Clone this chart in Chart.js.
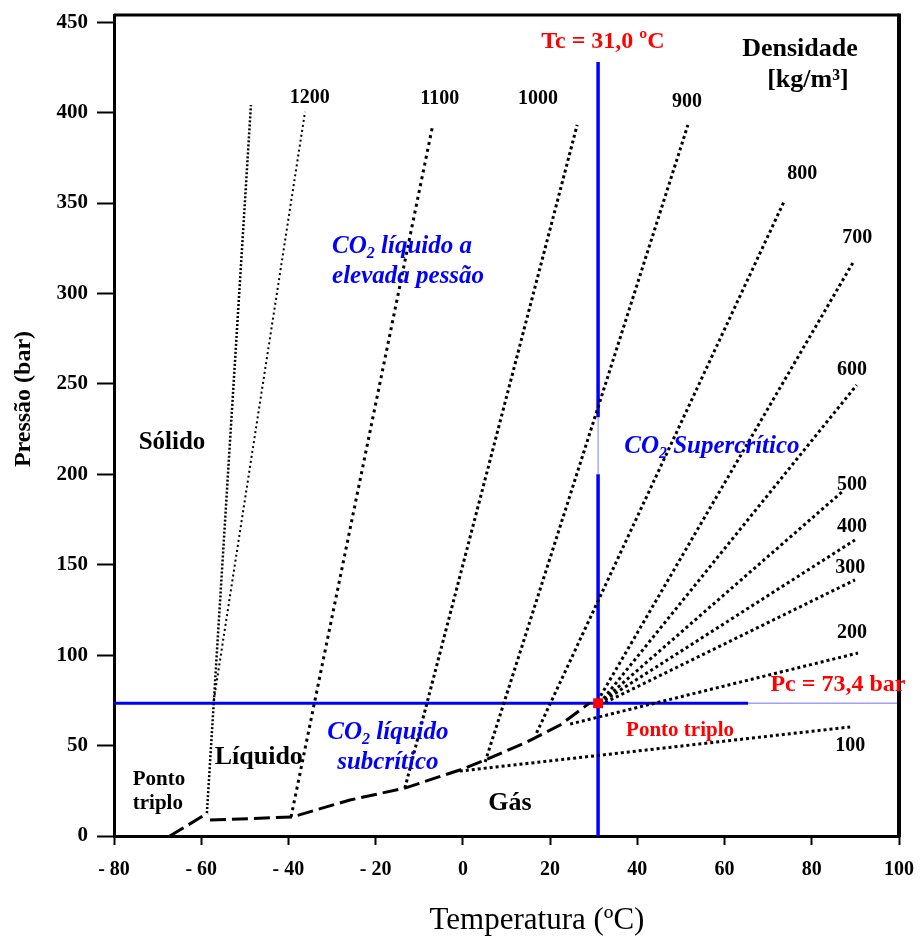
<!DOCTYPE html>
<html lang="pt">
<head>
<meta charset="utf-8">
<title>Diagrama de fases do CO2</title>
<script src="https://cdn.jsdelivr.net/npm/chart.js@4.4.1/dist/chart.umd.min.js"></script>
<style>
  html, body { margin: 0; padding: 0; background: #fff; }
  #wrap { width: 920px; height: 938px; }
</style>
</head>
<body>
<div id="wrap"><canvas id="phase-chart" width="920" height="938"></canvas></div>
<script>
/* ── Data: temperature (ºC), pressure (bar) ── */
const TEMP_TICKS = [-80, -60, -40, -20, 0, 20, 40, 60, 80, 100];
const PRESS_TICKS = [0, 50, 100, 150, 200, 250, 300, 350, 400, 450];

const T_CRIT = 31.0;
const P_CRIT = 73.4;

// phase boundaries
const SUBLIMATION = [[-67.2, 0], [-58.5, 12.7]];
const VAPORIZATION = [[-58.0, 8.8], [-39.2, 10.5], [-25.9, 19.9], [-13.3, 26.5], [-0.7, 36.5],
                      [5.1, 42.0], [14.7, 52.0], [22.3, 61.4], [29.1, 73.6]];
const MELTING = [[-58.7, 12.7], [-48.6, 404.2]];

// isochores (kg/m³): low end, high end
const ISO_1200 = [[-57.1, 75.2], [-36.2, 400.4]];
const ISO_1100 = [[-39.4, 10.5], [-6.9, 393.2]];
const ISO_1000 = [[-13.3, 26.5], [26.2, 393.2]];
const ISO_900  = [[5.1, 40.9], [51.6, 393.2]];
const ISO_800  = [[16.9, 57.0], [73.8, 351.7]];
const ISO_700  = [[30.9, 74.7], [89.4, 316.9]];
const ISO_600  = [[31.4, 73.5], [90.3, 249.4]];
const ISO_500  = [[31.4, 73.5], [86.9, 190.2]];
const ISO_400  = [[31.4, 73.5], [89.9, 163.7]];
const ISO_300  = [[31.4, 72.4], [89.9, 141.6]];
const ISO_200  = [[24.6, 61.9], [90.6, 101.2]];
const ISO_100  = [[-0.7, 35.9], [88.8, 60.3]];

const ISOCHORES = [
    ['1200', ISO_1200], ['1100', ISO_1100], ['1000', ISO_1000], ['900', ISO_900],
    ['800', ISO_800], ['700', ISO_700], ['600', ISO_600], ['500', ISO_500],
    ['400', ISO_400], ['300', ISO_300], ['200', ISO_200], ['100', ISO_100]
];

// critical lines (Tc line has a faint gap behind the supercritical label)
const TC_LINE = [[T_CRIT, 0], [T_CRIT, 200], [T_CRIT, 231.5], [T_CRIT, 428]];
const PC_LINE = [[-80, P_CRIT], [65.4, P_CRIT], [100, P_CRIT]];

/* ── Styling ── */
const SERIF = '"Liberation Serif", "Times New Roman", serif';
const BLUE = '#0000ff';
const RED = '#ff0000';

const pts = arr => arr.map(([x, y]) => ({ x, y }));

function lineSet(label, data, color, width, dash, order) {
    return {
        label, data: pts(data),
        showLine: true, fill: false, tension: 0,
        borderColor: color, borderWidth: width, borderDash: dash,
        pointRadius: 0, pointHoverRadius: 0, order
    };
}

const datasets = [];

datasets.push({
    label: 'Ponto crítico',
    data: pts([[T_CRIT, P_CRIT]]),
    pointStyle: 'rect', pointRadius: 7,
    backgroundColor: RED, borderColor: RED, borderWidth: 0, order: 0
});

ISOCHORES.forEach(([name, line]) => {
    let w = 3, dash = [3, 3];
    if (name === '1200') { w = 2; dash = [2, 3]; }
    if (name === '1100') { w = 3; dash = [3, 4]; }
    datasets.push(lineSet(name, line, '#000', w, dash, 1));
});
datasets.push(lineSet('Fusão', MELTING, '#000', 2.5, [2, 2], 1));
datasets.push(lineSet('Sublimação', SUBLIMATION, '#000', 3, [16, 6], 1));
datasets.push(lineSet('Vaporização', VAPORIZATION, '#000', 3, [16, 6], 1));

const tc = lineSet('Tc', TC_LINE, BLUE, 3.5, [], 3);
tc.segment = {
    borderWidth: c => c.p0DataIndex === 1 ? 1 : 3.5,
    borderColor: c => c.p0DataIndex === 1 ? '#8080ff' : BLUE
};
datasets.push(tc);

const pc = lineSet('Pc', PC_LINE, BLUE, 3, [], 3);
pc.segment = {
    borderWidth: c => c.p0DataIndex === 1 ? 1.5 : 3,
    borderColor: c => c.p0DataIndex === 1 ? '#a0a0ff' : BLUE
};
datasets.push(pc);

/* ── Text annotations (placed in data units) ── */
const NOTES = [
    { t: '1200', at: [-35.1, 408.1], f: 'bold 20px' },
    { t: '1100', at: [-5.3, 407.5], f: 'bold 20px' },
    { t: '1000', at: [17.2, 407.5], f: 'bold 20px' },
    { t: '900', at: [51.4, 405.9], f: 'bold 20px' },
    { t: '800', at: [77.8, 366], f: 'bold 20px' },
    { t: '700', at: [90.4, 330.7], f: 'bold 20px' },
    { t: '600', at: [89.2, 257.7], f: 'bold 20px' },
    { t: '500', at: [89.2, 194.1], f: 'bold 20px' },
    { t: '400', at: [89.2, 170.9], f: 'bold 20px' },
    { t: '300', at: [88.8, 148.2], f: 'bold 20px' },
    { t: '200', at: [89.2, 112.3], f: 'bold 20px' },
    { t: '100', at: [88.8, 49.8], f: 'bold 20px' },
    { t: 'Tc = 31,0 ºC', at: [32.1, 439], f: 'bold 24px', c: RED },
    { t: 'Densidade', at: [77.3, 435.2], f: 'bold 26px' },
    { t: '[kg/m³]', at: [79.1, 418], f: 'bold 26px' },
    { t: 'Sólido', at: [-66.7, 217.3], f: 'bold 25px' },
    { t: 'Líquido', at: [-46.8, 43.7], f: 'bold 26px' },
    { t: 'Ponto', at: [-75.7, 31], f: 'bold 21px', a: 'left' },
    { t: 'triplo', at: [-75.7, 17.7], f: 'bold 21px', a: 'left' },
    { t: 'Gás', at: [10.8, 18.2], f: 'bold 26px' },
    { t: 'Ponto triplo', at: [49.8, 58.1], f: 'bold 21px', c: RED },
    { t: 'Pc = 73,4 bar', at: [86, 83.5], f: 'bold 24px', c: RED },
    { t: ['CO', '2', ' líquido a'], at: [-30, 325.7], f: 'italic bold 25px', c: BLUE, a: 'left' },
    { t: 'elevada pessão', at: [-30, 309.1], f: 'italic bold 25px', c: BLUE, a: 'left' },
    { t: ['CO', '2', ' Supercrítico'], at: [57.1, 215.1], f: 'italic bold 25px', c: BLUE },
    { t: ['CO', '2', ' líquido'], at: [-17.2, 57], f: 'italic bold 25px', c: BLUE },
    { t: 'subcrítico', at: [-17.2, 40.4], f: 'italic bold 25px', c: BLUE }
];

function drawNote(ctx, n, px, py) {
    const size = parseInt(n.f.match(/(\d+)px/)[1], 10);
    const main = `${n.f} ${SERIF}`;
    const sub = n.f.replace(/\d+px/, Math.round(size * 0.62) + 'px') + ' ' + SERIF;
    const parts = Array.isArray(n.t) ? n.t : [n.t];
    const widths = parts.map((p, i) => {
        ctx.font = (parts.length > 1 && i === 1) ? sub : main;
        return ctx.measureText(p).width;
    });
    const total = widths.reduce((s, w) => s + w, 0);
    let x = n.a === 'left' ? px : px - total / 2;
    ctx.fillStyle = n.c || '#000';
    ctx.textAlign = 'left';
    parts.forEach((p, i) => {
        const isSub = parts.length > 1 && i === 1;
        ctx.font = isSub ? sub : main;
        ctx.fillText(p, x, isSub ? py + size * 0.28 : py);
        x += widths[i];
    });
}

const annotate = {
    id: 'annotate',
    afterDatasetsDraw(chart) {
        const { ctx, chartArea: a, scales: { x, y } } = chart;
        ctx.save();

        // top and right frame
        ctx.strokeStyle = '#000';
        ctx.lineWidth = 3;
        ctx.beginPath(); ctx.moveTo(a.left, a.top); ctx.lineTo(a.right, a.top); ctx.stroke();
        ctx.lineWidth = 4;
        ctx.beginPath(); ctx.moveTo(a.right, a.top - 1.5); ctx.lineTo(a.right, a.bottom + 1.5); ctx.stroke();

        ctx.textBaseline = 'middle';
        NOTES.forEach(n => drawNote(ctx, n, x.getPixelForValue(n.at[0]), y.getPixelForValue(n.at[1])));

        // axis titles
        ctx.fillStyle = '#000';
        ctx.textAlign = 'center';
        ctx.font = `31px ${SERIF}`;
        ctx.fillText('Temperatura (ºC)', 537, 921);

        ctx.translate(24, 399);
        ctx.rotate(-Math.PI / 2);
        ctx.font = `bold 24px ${SERIF}`;
        ctx.fillText('Pressão (bar)', 0, 0);
        ctx.restore();
    }
};

/* ── Chart ── */
new Chart(document.getElementById('phase-chart'), {
    type: 'scatter',
    data: { datasets },
    options: {
        responsive: false,
        animation: false,
        layout: { padding: { top: 15, right: 21, left: 0, bottom: 0 } },
        plugins: { legend: { display: false }, tooltip: { enabled: false } },
        scales: {
            x: {
                type: 'linear', min: -80, max: 100,
                afterBuildTicks: s => { s.ticks = TEMP_TICKS.map(v => ({ value: v })); },
                afterFit: s => { s.height = 102; s.paddingLeft = 0; s.paddingRight = 0; },
                ticks: {
                    color: '#000', padding: 13, maxRotation: 0,
                    font: { family: SERIF, size: 20, weight: 'bold' },
                    callback: v => v < 0 ? `- ${Math.abs(v)}` : String(v)
                },
                grid: { drawOnChartArea: false, drawTicks: true, tickLength: 9, tickWidth: 2, tickColor: '#000' },
                border: { display: true, color: '#000', width: 3 }
            },
            y: {
                type: 'linear', min: 0, max: 454,
                afterBuildTicks: s => { s.ticks = PRESS_TICKS.map(v => ({ value: v })); },
                afterFit: s => { s.width = 114; s.paddingTop = 0; s.paddingBottom = 0; },
                ticks: {
                    color: '#000', padding: 9,
                    font: { family: SERIF, size: 21, weight: 'bold' }
                },
                grid: { drawOnChartArea: false, drawTicks: true, tickLength: 17, tickWidth: 2, tickColor: '#000' },
                border: { display: true, color: '#000', width: 3 }
            }
        }
    },
    plugins: [annotate]
});
</script>
</body>
</html>
